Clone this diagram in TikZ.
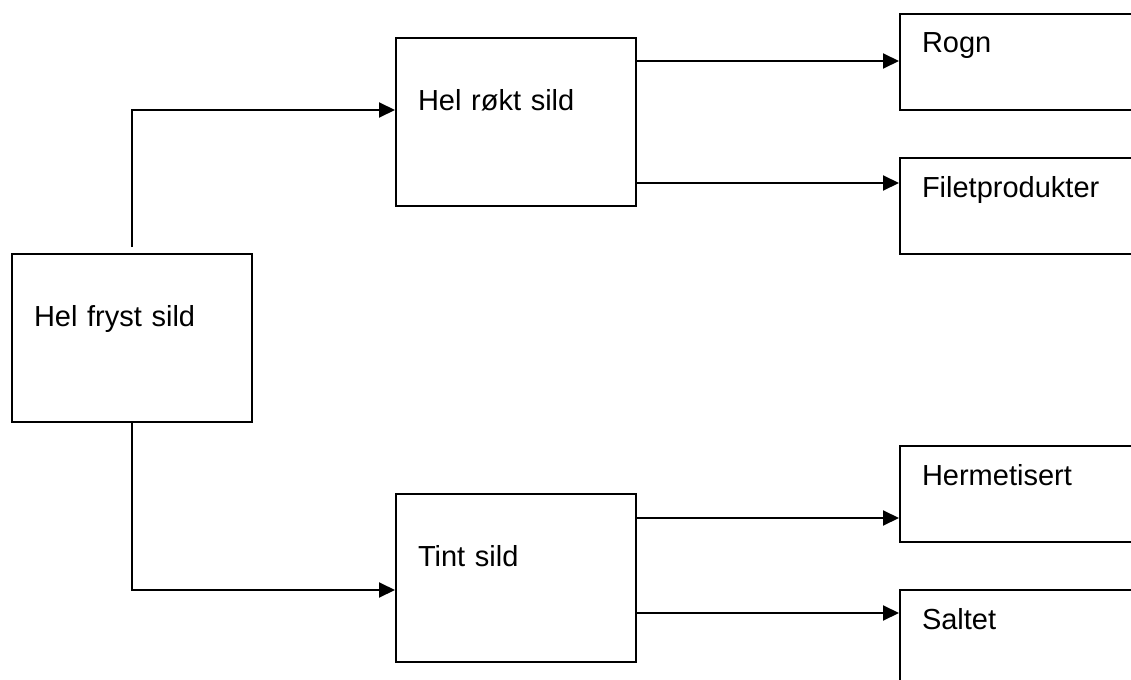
\documentclass[tikz,border=0pt]{standalone}
\usepackage{fontspec}
\setmainfont{Liberation Sans}
\usetikzlibrary{arrows.meta,positioning,calc}

\begin{document}
\begin{tikzpicture}[
  x=0.5pt, y=-0.5pt,
  >={Triangle[length=8pt,width=7.5pt]},
  box/.style    = {draw, line width=1pt, anchor=north west, inner xsep=11pt, inner ysep=0pt,
                   text width=98pt, align=left, font=\fontsize{14.5}{17}\selectfont},
  bigbox/.style = {box, text height=36pt, text depth=48pt},
  smallbox/.style = {box, text height=19.5pt, text depth=28.5pt},
  line/.style   = {->, line width=1pt}
]
\clip (0,0) rectangle (1131,680);

% Nodes
\node[bigbox] (fryst) at (11,253) {Hel fryst sild};
\node[bigbox] (roekt) at (395,37) {Hel røkt sild};
\node[bigbox] (tint)  at (395,493) {Tint sild};

\node[smallbox] (rogn)   at (899,13)  {Rogn};
\node[smallbox] (filet)  at (899,157) {Filetprodukter};
\node[smallbox] (herm)   at (899,445) {Hermetisert};
\node[smallbox] (saltet) at (899,589) {Saltet};

% Fryst sild to the two branches
\coordinate (in1) at ([yshift=6pt]roekt.west);
\coordinate (in2) at ([yshift=-6pt]tint.west);
\draw[line] ([yshift=3pt]fryst.north) |- (in1);
\draw[line] (fryst.south) |- (in2);

% Roekt sild branch
\coordinate (r1) at ([yshift=-12pt]roekt.north east);
\coordinate (r2) at ([yshift=12pt]roekt.south east);
\draw[line] (r1) -- (r1 -| rogn.west);
\draw[line] (r2) -- (r2 -| filet.west);

% Tint sild branch
\coordinate (t1) at ([yshift=-12.5pt]tint.north east);
\coordinate (t2) at ([yshift=-12pt]saltet.north west);
\draw[line] (t1) -- (t1 -| herm.west);
\draw[line] (t2 -| tint.east) -- (t2);

\end{tikzpicture}
\end{document}
